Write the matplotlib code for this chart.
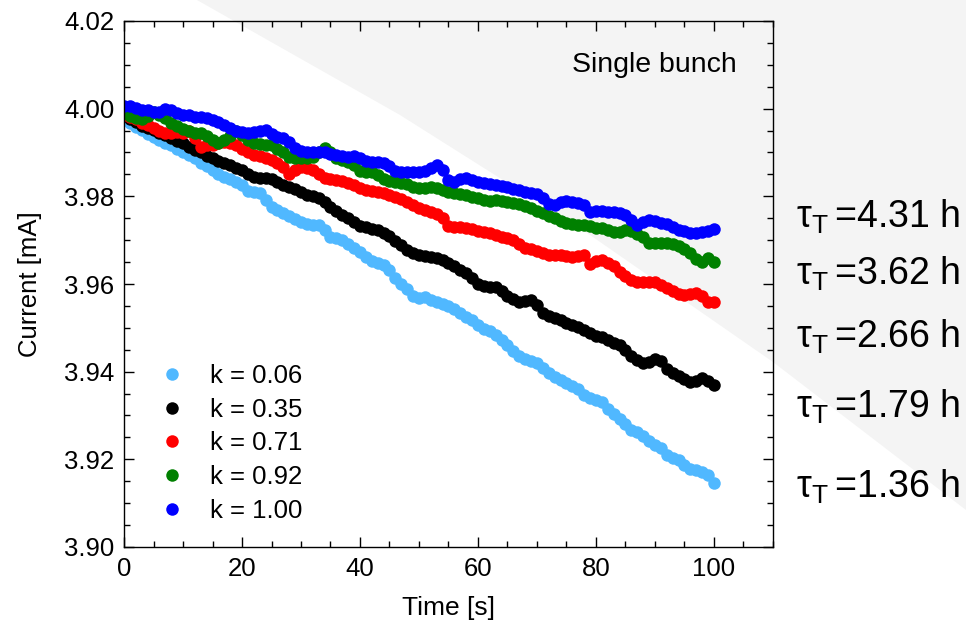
import numpy as np
import matplotlib
matplotlib.use("Agg")
import matplotlib.pyplot as plt
from matplotlib.patches import Polygon
from matplotlib.ticker import MultipleLocator, FormatStrFormatter

plt.rcParams['font.family'] = ['Liberation Sans', 'DejaVu Sans']
plt.rcParams['mathtext.fontset'] = 'custom'
plt.rcParams['mathtext.rm'] = 'Liberation Sans'

# time axis, one reading per second
time_s = np.arange(0, 101)

# beam current readings [mA]
cur_k006 = [3.9979, 3.9968, 3.9959, 3.9952, 3.9943, 3.9936, 3.9929, 3.9922, 3.9916, 3.9909,
            3.9902, 3.9895, 3.9888, 3.9877, 3.9870, 3.9861, 3.9852, 3.9845, 3.9840, 3.9833,
            3.9826, 3.9813, 3.9811, 3.9808, 3.9792, 3.9776, 3.9769, 3.9763, 3.9756, 3.9749,
            3.9742, 3.9737, 3.9735, 3.9735, 3.9724, 3.9708, 3.9705, 3.9701, 3.9692, 3.9683,
            3.9674, 3.9662, 3.9653, 3.9648, 3.9644, 3.9632, 3.9614, 3.9600, 3.9589, 3.9573,
            3.9568, 3.9571, 3.9564, 3.9559, 3.9555, 3.9550, 3.9543, 3.9534, 3.9525, 3.9518,
            3.9507, 3.9498, 3.9493, 3.9484, 3.9473, 3.9461, 3.9448, 3.9436, 3.9429, 3.9425,
            3.9420, 3.9409, 3.9397, 3.9388, 3.9381, 3.9374, 3.9368, 3.9361, 3.9347, 3.9340,
            3.9336, 3.9331, 3.9315, 3.9304, 3.9292, 3.9281, 3.9267, 3.9263, 3.9253, 3.9242,
            3.9233, 3.9226, 3.9210, 3.9203, 3.9199, 3.9187, 3.9178, 3.9176, 3.9171, 3.9164,
            3.9146]
cur_k035 = [3.9986, 3.9977, 3.9970, 3.9961, 3.9957, 3.9952, 3.9945, 3.9941, 3.9934, 3.9927,
            3.9922, 3.9913, 3.9906, 3.9900, 3.9893, 3.9888, 3.9881, 3.9877, 3.9872, 3.9865,
            3.9861, 3.9852, 3.9845, 3.9842, 3.9842, 3.9840, 3.9833, 3.9826, 3.9822, 3.9817,
            3.9811, 3.9804, 3.9801, 3.9797, 3.9788, 3.9776, 3.9767, 3.9758, 3.9751, 3.9742,
            3.9733, 3.9731, 3.9726, 3.9724, 3.9717, 3.9710, 3.9699, 3.9689, 3.9678, 3.9671,
            3.9667, 3.9664, 3.9662, 3.9660, 3.9655, 3.9648, 3.9642, 3.9632, 3.9626, 3.9614,
            3.9600, 3.9596, 3.9594, 3.9594, 3.9584, 3.9573, 3.9566, 3.9559, 3.9562, 3.9564,
            3.9553, 3.9534, 3.9527, 3.9523, 3.9518, 3.9511, 3.9507, 3.9502, 3.9495, 3.9489,
            3.9482, 3.9479, 3.9473, 3.9466, 3.9461, 3.9450, 3.9436, 3.9427, 3.9420, 3.9422,
            3.9429, 3.9425, 3.9406, 3.9397, 3.9390, 3.9384, 3.9377, 3.9379, 3.9386, 3.9379,
            3.9370]
cur_k071 = [3.9986, 3.9982, 3.9977, 3.9968, 3.9963, 3.9957, 3.9950, 3.9945, 3.9945, 3.9947,
            3.9945, 3.9950, 3.9934, 3.9913, 3.9916, 3.9918, 3.9922, 3.9925, 3.9922, 3.9916,
            3.9909, 3.9900, 3.9895, 3.9893, 3.9888, 3.9884, 3.9877, 3.9868, 3.9852, 3.9861,
            3.9868, 3.9865, 3.9861, 3.9852, 3.9842, 3.9840, 3.9838, 3.9836, 3.9831, 3.9826,
            3.9820, 3.9815, 3.9813, 3.9811, 3.9808, 3.9804, 3.9799, 3.9795, 3.9788, 3.9781,
            3.9774, 3.9769, 3.9765, 3.9760, 3.9751, 3.9733, 3.9731, 3.9731, 3.9728, 3.9726,
            3.9721, 3.9719, 3.9717, 3.9712, 3.9708, 3.9705, 3.9701, 3.9692, 3.9683, 3.9680,
            3.9676, 3.9671, 3.9667, 3.9667, 3.9667, 3.9664, 3.9662, 3.9664, 3.9667, 3.9646,
            3.9653, 3.9655, 3.9648, 3.9642, 3.9628, 3.9619, 3.9610, 3.9605, 3.9605, 3.9605,
            3.9605, 3.9598, 3.9591, 3.9584, 3.9578, 3.9575, 3.9578, 3.9580, 3.9573, 3.9559,
            3.9559]
cur_k092 = [3.9989, 3.9984, 3.9979, 3.9977, 3.9984, 3.9993, 3.9986, 3.9979, 3.9968, 3.9961,
            3.9954, 3.9950, 3.9945, 3.9945, 3.9938, 3.9929, 3.9922, 3.9929, 3.9938, 3.9950,
            3.9941, 3.9929, 3.9922, 3.9920, 3.9918, 3.9916, 3.9909, 3.9900, 3.9890, 3.9888,
            3.9888, 3.9888, 3.9890, 3.9902, 3.9911, 3.9900, 3.9888, 3.9884, 3.9879, 3.9872,
            3.9858, 3.9856, 3.9856, 3.9849, 3.9840, 3.9836, 3.9833, 3.9831, 3.9829, 3.9822,
            3.9820, 3.9820, 3.9822, 3.9820, 3.9815, 3.9811, 3.9808, 3.9806, 3.9804, 3.9799,
            3.9797, 3.9792, 3.9790, 3.9792, 3.9790, 3.9788, 3.9785, 3.9783, 3.9779, 3.9774,
            3.9767, 3.9763, 3.9756, 3.9751, 3.9744, 3.9740, 3.9737, 3.9735, 3.9735, 3.9733,
            3.9728, 3.9728, 3.9724, 3.9719, 3.9719, 3.9724, 3.9721, 3.9715, 3.9708, 3.9694,
            3.9694, 3.9694, 3.9694, 3.9692, 3.9687, 3.9680, 3.9671, 3.9658, 3.9651, 3.9660,
            3.9651]
cur_k100 = [4.0007, 4.0005, 4.0002, 3.9998, 3.9998, 3.9993, 3.9993, 4.0000, 3.9998, 3.9991,
            3.9986, 3.9986, 3.9982, 3.9982, 3.9979, 3.9975, 3.9970, 3.9963, 3.9957, 3.9950,
            3.9947, 3.9945, 3.9947, 3.9950, 3.9952, 3.9943, 3.9936, 3.9932, 3.9925, 3.9911,
            3.9904, 3.9902, 3.9902, 3.9900, 3.9900, 3.9897, 3.9895, 3.9893, 3.9890, 3.9893,
            3.9888, 3.9881, 3.9879, 3.9879, 3.9877, 3.9870, 3.9858, 3.9856, 3.9856, 3.9856,
            3.9856, 3.9858, 3.9865, 3.9872, 3.9861, 3.9838, 3.9833, 3.9840, 3.9842, 3.9838,
            3.9833, 3.9831, 3.9829, 3.9826, 3.9824, 3.9822, 3.9817, 3.9815, 3.9811, 3.9808,
            3.9806, 3.9797, 3.9783, 3.9781, 3.9788, 3.9790, 3.9788, 3.9785, 3.9781, 3.9765,
            3.9767, 3.9767, 3.9765, 3.9765, 3.9763, 3.9758, 3.9747, 3.9735, 3.9742, 3.9747,
            3.9744, 3.9740, 3.9737, 3.9731, 3.9724, 3.9721, 3.9717, 3.9717, 3.9719, 3.9721,
            3.9726]

series = [cur_k006, cur_k035, cur_k071, cur_k092, cur_k100]
labels = ["k = 0.06", "k = 0.35", "k = 0.71", "k = 0.92", "k = 1.00"]
colors = ["#50b8ff", "#000000", "#ff0000", "#008000", "#0000ff"]
lifetimes = ["4.31", "3.62", "2.66", "1.79", "1.36"]

W, H = 966, 626
fig = plt.figure(figsize=(W / 100, H / 100), dpi=100)

# light grey background wedge in the upper right
edge = [(197, 0), (400, 115), (590, 235), (773, 362), (966, 510), (966, 0)]
wedge = Polygon([(x / W, 1 - y / H) for x, y in edge], closed=True,
                transform=fig.transFigure, facecolor="#f4f4f4", edgecolor="none", zorder=-10)
fig.patches.append(wedge)

ax = fig.add_axes([124 / W, 1 - 547 / H, (773 - 124) / W, (547 - 21) / H])
ax.set_facecolor("none")

for vals, lab, col in zip(series, labels, colors):
    ax.plot(time_s, vals, linestyle="none", marker="o", ms=9, mew=0, color=col, label=lab)

ax.set_xlim(0, 110)
ax.set_ylim(3.90, 4.02)
ax.xaxis.set_major_locator(MultipleLocator(20))
ax.xaxis.set_minor_locator(MultipleLocator(5))
ax.yaxis.set_major_locator(MultipleLocator(0.02))
ax.yaxis.set_minor_locator(MultipleLocator(0.005))
ax.yaxis.set_major_formatter(FormatStrFormatter("%.2f"))
ax.tick_params(which="both", direction="in", top=True, right=True, width=1.0, labelsize=18.5, pad=7)
ax.tick_params(which="major", length=7.5)
ax.tick_params(which="minor", length=4)
for sp in ax.spines.values():
    sp.set_linewidth(1.0)

ax.set_xlabel("Time [s]", fontsize=19, labelpad=11)
ax.set_ylabel("Current [mA]", fontsize=18.5, labelpad=16)

ax.text(0.9445, 0.903, "Single bunch", transform=ax.transAxes, ha="right", va="baseline", fontsize=20.5)

ax.legend(loc="upper left", bbox_to_anchor=(0.054, 0.347), frameon=False, fontsize=18.5,
          numpoints=1, handlelength=1.0, handletextpad=1.0, labelspacing=0.37,
          borderpad=0, borderaxespad=0)

baselines = [228, 285, 348, 418, 498]
for val, yb in zip(lifetimes, baselines):
    fig.text(796 / W, 1 - yb / H, "τ$_\\mathrm{T}\\,$=" + val + " h", ha="left", va="baseline", fontsize=27)

fig.savefig("out.png", dpi=100)
